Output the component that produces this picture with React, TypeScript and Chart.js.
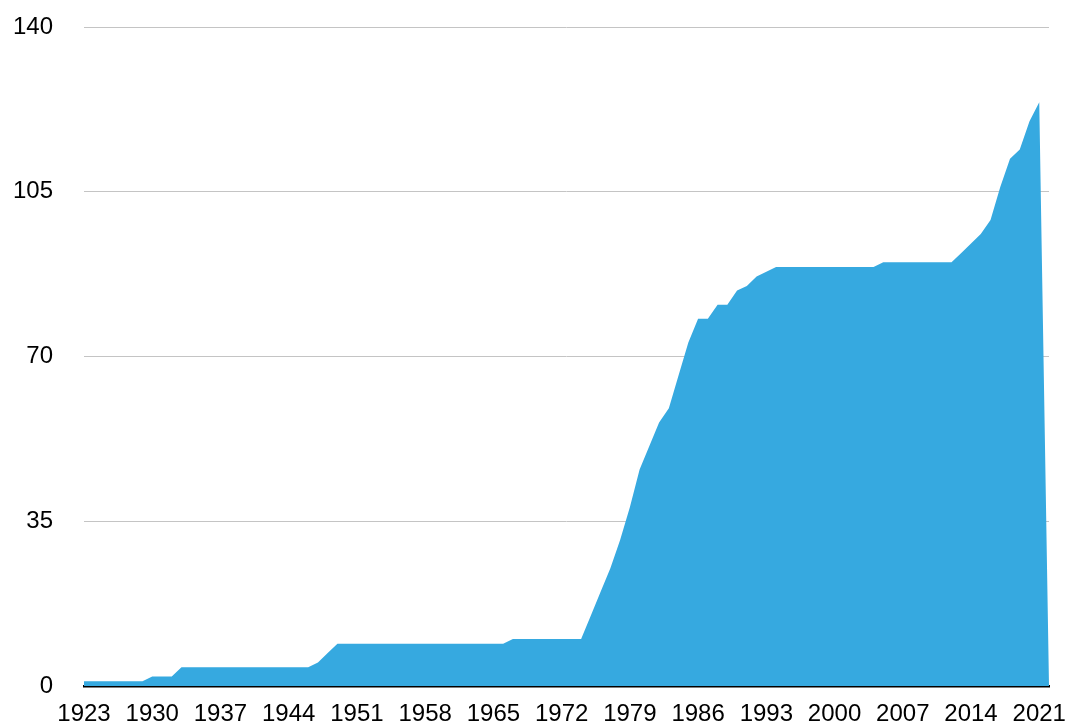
import React, { useEffect, useRef } from "react";
import { Chart, registerables } from "chart.js";

Chart.register(...registerables);

const startYear = 1923;
const endYear = 2022;
const years: string[] = [];
for (let y = startYear; y <= endYear; y++) years.push(String(y));

const values: number[] = [
  // 1923-1932
  1, 1, 1, 1, 1, 1, 1, 2, 2, 2,
  // 1933-1942
  4, 4, 4, 4, 4, 4, 4, 4, 4, 4,
  // 1943-1952
  4, 4, 4, 4, 5, 7, 9, 9, 9, 9,
  // 1953-1962
  9, 9, 9, 9, 9, 9, 9, 9, 9, 9,
  // 1963-1972
  9, 9, 9, 9, 10, 10, 10, 10, 10, 10,
  // 1973-1982
  10, 10, 15, 20, 25, 31, 38, 46, 51, 56,
  // 1983-1992
  59, 66, 73, 78, 78, 81, 81, 84, 85, 87,
  // 1993-2002
  88, 89, 89, 89, 89, 89, 89, 89, 89, 89,
  // 2003-2012
  89, 89, 90, 90, 90, 90, 90, 90, 90, 90,
  // 2013-2022
  92, 94, 96, 99, 106, 112, 114, 120, 124, 0,
];

const yTicks: number[] = [0, 35, 70, 105, 140];
const labelStep = 7;

const FILL = "#36a9e0";
const FONT = "'Liberation Sans', Arial, Helvetica, sans-serif";

export default function App() {
  const ref = useRef<HTMLCanvasElement | null>(null);

  useEffect(() => {
    if (!ref.current) return;
    const chart = new Chart(ref.current, {
      type: "line",
      data: {
        labels: years,
        datasets: [
          {
            data: values,
            fill: "origin",
            backgroundColor: FILL,
            borderColor: FILL,
            borderWidth: 0,
            pointRadius: 0,
            tension: 0,
          },
        ],
      },
      options: {
        responsive: false,
        animation: false,
        layout: { padding: { top: 27, right: 21, left: 0, bottom: 0 } },
        plugins: { legend: { display: false }, tooltip: { enabled: false } },
        scales: {
          x: {
            type: "category",
            offset: false,
            z: 1,
            grid: { display: false, drawTicks: false },
            border: { display: true, color: "#000", width: 2.5 },
            ticks: {
              autoSkip: false,
              maxRotation: 0,
              minRotation: 0,
              padding: 14,
              color: "#000",
              font: { family: FONT, size: 24 },
              callback: (_v: any, i: number) =>
                i % labelStep === 0 ? years[i] : "",
            },
            afterFit: (s: any) => {
              s.height = 38;
              s.paddingLeft = 0;
              s.paddingRight = 0;
            },
          },
          y: {
            min: 0,
            max: 140,
            grid: { color: "#c4c4c4", lineWidth: 1, drawTicks: false },
            border: { display: false },
            afterBuildTicks: (s: any) => {
              s.ticks = yTicks.map((v) => ({ value: v }));
            },
            ticks: {
              padding: 31,
              color: "#000",
              font: { family: FONT, size: 24 },
            },
            afterFit: (s: any) => {
              s.width = 84;
              s.paddingTop = 0;
              s.paddingBottom = 0;
            },
          },
        },
      },
    });
    return () => chart.destroy();
  }, []);

  return (
    <div
      style={{
        position: "fixed",
        left: 0,
        top: 0,
        width: 1070,
        height: 724,
        background: "#fff",
      }}
    >
      <canvas ref={ref} width={1070} height={724} />
    </div>
  );
}
